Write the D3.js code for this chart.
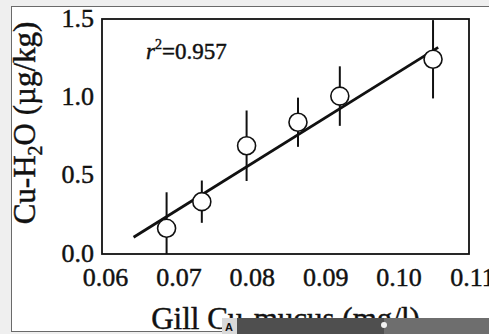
<!DOCTYPE html>
<html>
<head>
<meta charset="utf-8">
<script src="https://cdn.jsdelivr.net/npm/d3@7"></script>
<style>
  body { margin: 0; background: #efefef; }
  svg { display: block; }
  text { font-family: "Liberation Serif", "Times New Roman", serif; fill: #111; }
  .ink { stroke: #111; stroke-width: 0.45px; }
</style>
</head>
<body>
<div id="chart"></div>
<script>
// data
var gillCu = [0.0688, 0.0736, 0.0797, 0.0867, 0.0924, 0.1051];
var cuH2O  = [0.164, 0.334, 0.691, 0.841, 1.008, 1.243];
var errBar = [0.23, 0.135, 0.225, 0.157, 0.19, 0.25];
var fitX = [0.0643, 0.1058];
var fitY = [0.107, 1.319];
var xTicks = [0.06, 0.07, 0.08, 0.09, 0.10, 0.11];
var yTicks = [0.0, 0.5, 1.0, 1.5];
var r2Label = "0.957";

var W = 489, H = 334;
var plotL = 102, plotR = 469, plotT = 19, plotB = 254;

var svg = d3.select("#chart").append("svg")
  .attr("width", W).attr("height", H);

// scanned page panel
svg.append("rect").attr("x", 0).attr("y", 0).attr("width", W).attr("height", H).attr("fill", "#efefef");
svg.append("rect").attr("x", 11.5).attr("y", 6.5).attr("width", W).attr("height", 325)
  .attr("fill", "#fff").attr("stroke", "#6a6a6a").attr("stroke-width", 1);

var x = d3.scaleLinear().domain([0.06, 0.11]).range([plotL, plotR]);
var y = d3.scaleLinear().domain([0, 1.5]).range([plotB, plotT]);

// axes (labels only, frame drawn separately)
var xAxis = svg.append("g")
  .attr("transform", "translate(0," + plotB + ")")
  .call(d3.axisBottom(x).tickValues(xTicks).tickFormat(d3.format(".2f")).tickSize(0).tickPadding(0));
xAxis.select(".domain").remove();
xAxis.selectAll("text").attr("font-size", 26).attr("dx", 3).attr("dy", 0).attr("y", 32)
  .attr("class", "ink").style("font-family", "Liberation Serif").attr("fill", "#111");

var yAxis = svg.append("g")
  .attr("transform", "translate(" + plotL + ",0)")
  .call(d3.axisLeft(y).tickValues(yTicks).tickFormat(d3.format(".1f")).tickSize(0).tickPadding(8));
yAxis.select(".domain").remove();
yAxis.selectAll("text").attr("font-size", 26).attr("dy", "0.28em")
  .attr("class", "ink").style("font-family", "Liberation Serif").attr("fill", "#111");

// plot frame
svg.append("rect")
  .attr("x", plotL).attr("y", plotT)
  .attr("width", plotR - plotL).attr("height", plotB - plotT)
  .attr("fill", "none").attr("stroke", "#111").attr("stroke-width", 1.8);

// error bars
var pts = gillCu.map(function(d, i) { return { x: d, y: cuH2O[i], e: errBar[i] }; });
svg.append("g").selectAll("line")
  .data(pts).enter().append("line")
  .attr("x1", function(d) { return x(d.x); })
  .attr("x2", function(d) { return x(d.x); })
  .attr("y1", function(d) { return y(Math.max(0, d.y - d.e)); })
  .attr("y2", function(d) { return y(Math.min(1.5, d.y + d.e)); })
  .attr("stroke", "#111").attr("stroke-width", 2);

// regression line
svg.append("line")
  .attr("x1", x(fitX[0])).attr("y1", y(fitY[0]))
  .attr("x2", x(fitX[1])).attr("y2", y(fitY[1]))
  .attr("stroke", "#111").attr("stroke-width", 2.8);

// open circles
svg.append("g").selectAll("circle")
  .data(pts).enter().append("circle")
  .attr("cx", function(d) { return x(d.x); })
  .attr("cy", function(d) { return y(d.y); })
  .attr("r", 9)
  .attr("fill", "#fff").attr("stroke", "#111").attr("stroke-width", 1.6);

// r^2 annotation
var r2 = svg.append("text").attr("x", 146).attr("y", 59).attr("font-size", 23).attr("class", "ink");
r2.append("tspan").attr("font-style", "italic").text("r");
r2.append("tspan").attr("font-size", 14).attr("dy", -10).text("2");
r2.append("tspan").attr("dy", 10).text("=" + r2Label);

// axis titles
svg.append("text")
  .attr("x", (plotL + plotR) / 2).attr("y", 329)
  .attr("text-anchor", "middle").attr("font-size", 31).attr("class", "ink")
  .text("Gill Cu-mucus (mg/l)");

var yt = svg.append("text")
  .attr("transform", "translate(35,123) rotate(-90)")
  .attr("text-anchor", "middle").attr("font-size", 31).attr("class", "ink");
yt.append("tspan").text("Cu-H");
yt.append("tspan").attr("font-size", 20).attr("dy", 7).text("2");
yt.append("tspan").attr("dy", -7).text("O (\u00b5g/kg)");

// player overlay bar seen at the bottom of the screenshot
svg.append("rect").attr("x", 222).attr("y", 318).attr("width", 15).attr("height", 16).attr("fill", "#d9d9d9");
svg.append("text").attr("x", 225).attr("y", 331).attr("font-size", 11).attr("font-weight", "bold")
  .style("font-family", "Liberation Sans").text("A");
svg.append("rect").attr("x", 237).attr("y", 318).attr("width", 147).attr("height", 16).attr("fill", "#4f4f4f");
svg.append("rect").attr("x", 384).attr("y", 318).attr("width", 105).attr("height", 16).attr("fill", "#6e6e6e");
svg.append("circle").attr("cx", 384).attr("cy", 325).attr("r", 3).attr("fill", "#f2f2f2");
</script>
</body>
</html>
